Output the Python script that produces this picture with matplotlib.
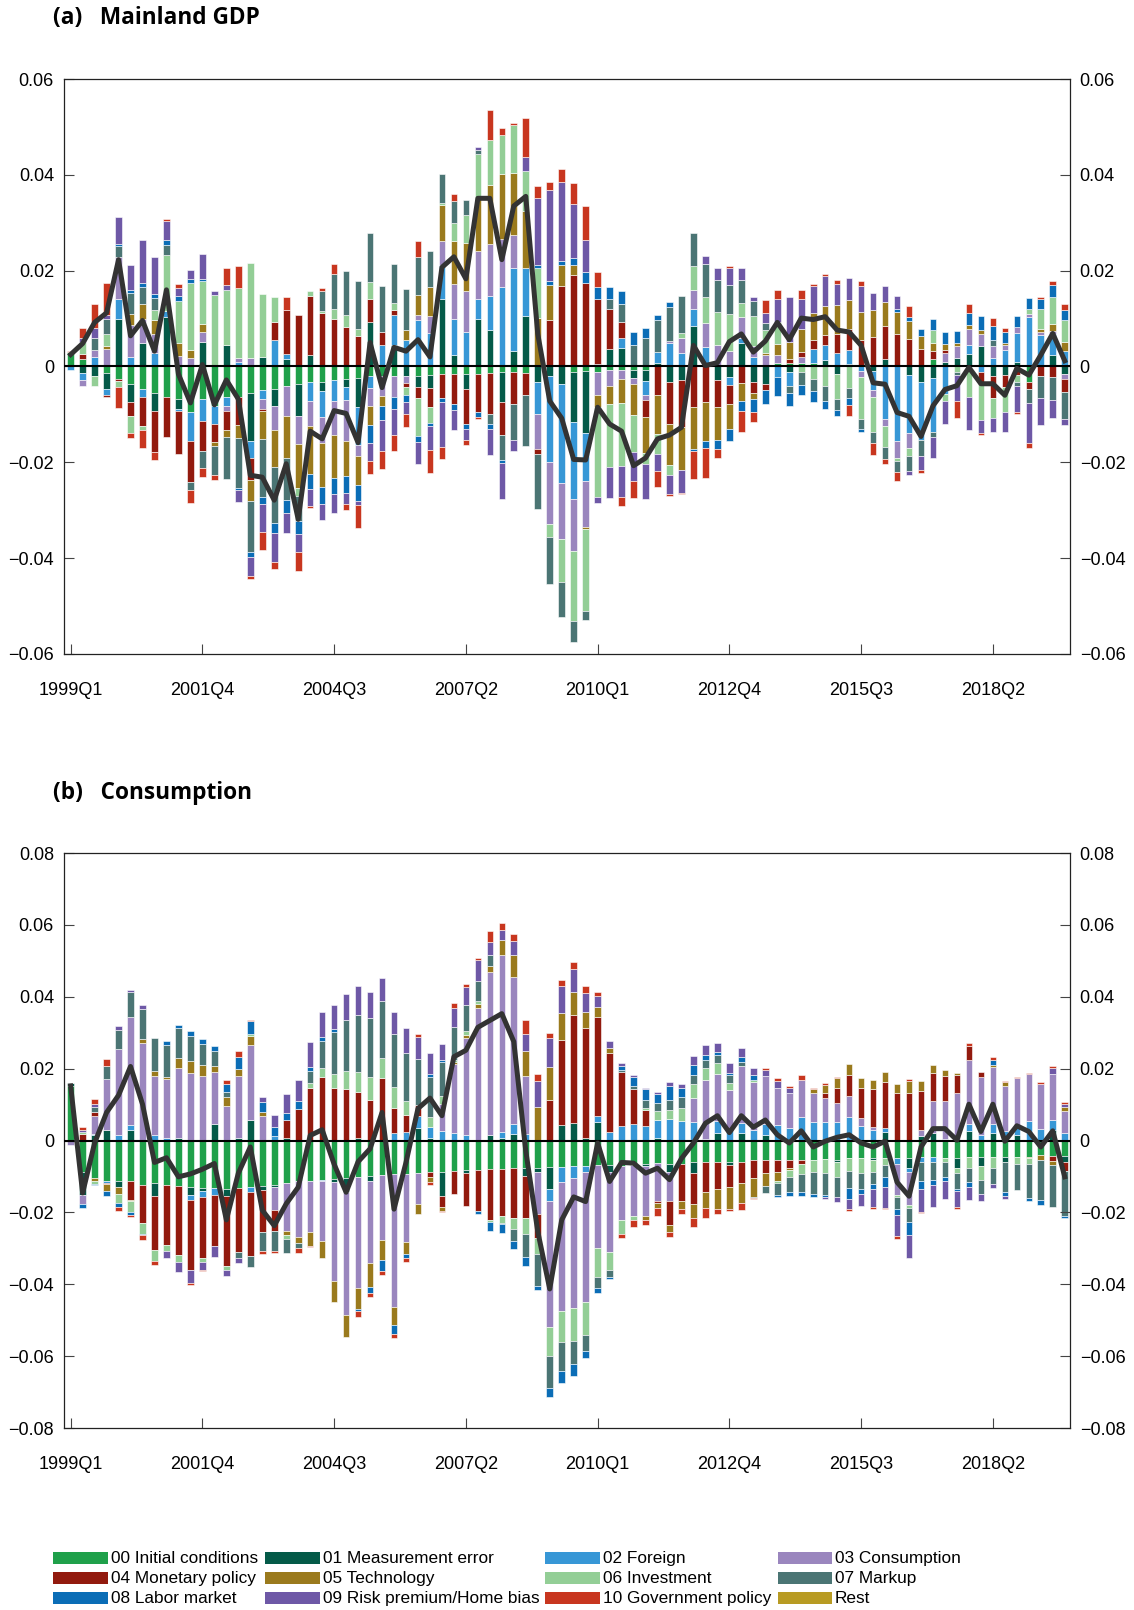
#!/usr/bin/env python3

import numpy as np
import matplotlib
matplotlib.use('Agg')
import matplotlib.pyplot as plt
from matplotlib.patches import Rectangle

plt.rcParams['font.family'] = ['Liberation Sans', 'DejaVu Sans']

# shock decomposition, 1999Q1 - 2019Q4, all values in 1/1000
n_q = 84
x_ticks = [0, 11, 22, 33, 44, 55, 66, 77]
x_labels = ['1999Q1', '2001Q4', '2004Q3', '2007Q2', '2010Q1', '2012Q4', '2015Q3', '2018Q2']

labels = ['00 Initial conditions', '01 Measurement error', '02 Foreign', '03 Consumption',
          '04 Monetary policy', '05 Technology', '06 Investment', '07 Markup',
          '08 Labor market', '09 Risk premium/Home bias', '10 Government policy', 'Rest']
colors = ['#1fa04a', '#045a48', '#3797d6', '#9a86be', '#921a0e', '#9a7a1d',
          '#93ce96', '#4b7574', '#0b6db6', '#6e58a6', '#c8361f', '#b89b23']

# ---- (a) Mainland GDP ----
gdp_init = [3.0, 1.6, 0, -1.4, -2.6, -3.7, -4.8, -5.6, -6.4, -6.8, -9.4, -6.8, -8.2, -6.4, -6.4, -5.6, -5.0, -4.6, -4.0, -3.7, -3.2,
            -3.2, -2.8, -2.6, -2.4, -2.0, -2.0, -2.0, 0, -2.0, -1.8, -1.6, -1.6, -1.6, -1.6, -1.4, -1.2, -1.2, -1.4, 0, 0, 0,
            -1.2, -1.0, -1.2, -0.8, -0.8, -0.8, -0.8, 0, 0, 0, 0, 0, 0, 0, 0, 0, 0, 0.8, 0.8, 0.8, 0.8,
            0, 0, 0, 0, 0, 0, 0, 0, 0, 1.6, 0, 0, 0, 0, 0, 0, 0, -3.2, 0, 0, 0]
gdp_meas = [0, -1.4, -2.0, -3.3, 10.0, -3.7, 5.0, -3.6, 10.4, -2.0, 0, 5.2, 0, 4.5, 0, -9.9, 2.0, -3.6, 1.6, -6.6, 2.4,
            -2.0, 0, -1.6, -6.1, 9.2, 0, 4.5, -2.0, -2.2, -2.7, 14.0, 2.4, -3.2, 10.0, 7.7, -6.2, 3.2, 10.6, -3.2, -2.0, -3.6,
            -10.4, -12.9, 0, 3.7, 3.8, -1.6, -2.2, 0.8, -3.3, -2.9, 8.5, 0, -2.8, -2.2, 5.0, -3.3, -3.7, 0, -1.2, 0, 0,
            1.4, -1.6, 0.6, 0, -1.0, 1.6, 0, -1.8, -3.3, -2.4, 1.0, 1.8, 2.6, 4.2, -2.0, -1.8, 1.0, 0, 0, 2.4, -1.6]
gdp_foreign = [-0.8, -1.4, 2.0, -1.2, 4.0, 2.0, -1.6, 2.8, 1.2, -0.4, -6.2, -4.6, -3.8, -1.8, 1.0, -3.6, -1.8, 5.6, 1.0, 0, -4.0,
               -5.4, -4.4, -2.7, -7.8, -2.4, 4.4, 6.2, 5.6, 9.6, 7.0, 7.2, 7.6, 7.2, 4.1, 7.0, 16.5, 17.3, 10.0, -6.8, -17.9, -20.7,
               -16.0, -10.0, 0.5, 0, 2.2, 0, -2.9, 2.2, 4.8, 2.9, 3.4, 4.1, 0, -1.6, 1.0, 2.0, 0, -2.2, -2.9, 0, 2.9,
               3.0, 2.9, 2.8, -1.0, -4.0, -11.0, -15.5, -12.1, -12.0, -11.2, -5.8, 0, 1.9, -1.2, 1.8, 3.4, 5.9, 10.4, 6.6, 4.4, 3.2]
gdp_cons = [0, -1.2, 1.5, 3.6, 8.8, 6.6, 5.0, 4.0, 0, 2.2, 1.8, 2.0, 0, -1.0, 0.8, 1.8, -2.0, -5.1, -6.3, -5.8, -5.2,
            -5.4, -7.2, -8.6, -2.4, -3.8, -4.1, -4.4, -1.5, 1.2, 3.6, 5.0, 7.2, 8.5, 10.0, 10.8, 10.2, 7.0, 0, -7.3, -13.0, -11.8,
            -11.0, -9.6, -4.8, -3.3, -1.8, -1.2, -1.0, 0, 0.5, 3.0, 4.1, 5.0, 4.5, 3.3, 4.4, 2.2, 2.4, 1.6, 0, 1.2, 0,
            0, 0, 0, -1.1, -1.4, -1.4, -3.7, -3.2, 0, 0, 1.9, 2.4, 3.4, 2.6, 2.4, 1.1, 1.3, 0.6, 0.5, 0.6, -1.0]
gdp_mon = [0, 1.1, 0, -0.4, -0.5, -3.0, -6.0, -8.6, -8.4, -9.0, -8.6, -6.2, -3.8, -4.0, -5.8, -4.5, -0.4, 3.6, 9.2, 10.8, 12.4,
           11.2, 10.0, 8.2, 6.4, 4.8, 2.8, 1.0, -0.8, -2.4, -4.0, -5.0, -6.2, -7.2, -7.8, -8.5, -6.9, -6.6, -4.6, -0.9, 9.8, 16.7,
           19.1, 17.5, 13.5, 8.4, 3.3, 0, -3.6, -6.0, -8.8, -9.7, -8.4, -7.4, -5.6, -4.1, -3.4, -2.2, -1.2, 0, 0.8, 1.0, 1.8,
           2.2, 3.8, 4.4, 5.6, 6.1, 6.9, 6.8, 5.8, 3.7, 1.6, 0.6, 0, 0, -2.4, -4.6, -2.4, -1.8, -1.6, -2.0, -2.2, -2.7]
gdp_tech = [0, 0, 0, 0.6, 0, 2.4, 3.0, 2.8, 0, 2.6, 1.6, 1.6, -0.8, -1.6, -2.7, -4.5, -6.0, -7.6, -8.8, -9.3, -10.0,
            -9.2, -8.8, -7.4, -6.0, -4.1, -2.1, 0, 2.1, 4.2, 6.0, 7.4, 9.0, 10.0, 10.8, 12.4, 13.4, 12.9, 11.9, 10.1, 7.3, 4.4,
            2.0, -0.4, -2.5, -3.8, -5.1, -6.6, -7.6, -8.1, -8.4, -9.0, -8.8, -8.1, -6.9, -5.2, -3.7, -1.3, 0.5, 2.2, 3.6, 4.8, 5.6,
            6.1, 6.2, 6.1, 5.8, 5.6, 5.0, 4.6, 3.7, 2.6, 1.8, 1.2, 0.8, 0.8, 0.8, 0, 0.5, 0, 0, 0.8, 1.4, 2.0]
gdp_inv = [0, 2.5, -2.0, 2.5, -1.2, -3.4, -0.8, 2.2, 11.6, 8.8, 14.0, 9.0, 15.0, 11.4, 14.5, 19.8, 13.2, 5.2, 0, -1.6, 1.0,
           0.4, 2.0, 2.6, 1.4, 3.6, 0, 1.6, -1.6, -8.0, -3.2, 0.6, 3.7, 6.0, 9.4, 9.3, 8.3, 10.0, 8.2, 10.4, -2.7, -8.9,
           -14.5, -17.1, -18.8, -13.1, -13.1, -7.7, -2.2, -4.1, -2.2, 1.0, 5.0, 5.3, 6.9, 7.6, 2.8, 6.4, 4.8, 4.6, 0, -1.2, -2.6,
           -4.0, -5.1, -4.4, -8.8, -7.3, -4.5, -0.5, -1.6, 0, 2.7, -1.4, -1.2, -6.4, -7.6, -4.1, -5.4, -1.4, 1.1, 4.0, 5.8, 4.6]
gdp_markup = [0, 0, 2.5, 3.2, 2.4, 4.4, 3.5, 2.4, 2.2, 0, -1.6, -3.6, -6.0, -8.6, -10.4, -10.7, -12.0, -11.8, -8.8, -5.2, 0,
              4.1, 7.4, 9.2, 10.0, 10.2, 9.7, 8.0, 8.4, 7.8, 7.6, 6.0, 4.6, 3.0, 0.8, -2.2, -5.2, -7.6, -10.6, -11.6, -9.8, -7.3,
              -4.4, -2.0, 0, 1.9, 3.7, 4.5, 6.0, 6.6, 7.2, 7.8, 6.8, 6.9, 6.7, 6.2, 4.8, 3.0, 1.3, 0, -1.4, -2.6, -2.6,
              -3.2, -2.4, -2.2, -2.2, -2.2, -2.4, -2.4, -3.2, -3.3, -1.2, 0, -0.6, 0, 0, 1.4, 0, -0.8, -2.8, -4.5, -4.8, -5.6]
gdp_labor = [0, 0, 0, 0, 0.4, 0.6, 1.0, 1.0, 1.0, 1.2, 0.8, 0.4, 0, 0, -0.5, -1.0, -1.4, -2.0, -2.6, -2.8, -3.2,
             -3.6, -3.4, -3.6, -3.4, -3.6, -3.0, -2.4, -1.6, -1.1, -0.8, -0.8, -1.2, -1.0, -1.2, -1.0, -0.6, 0, 0, 0.6, 0.8, 1.0,
             1.6, 2.2, 2.6, 2.6, 2.7, 2.7, 2.0, 1.2, 1.0, 0, -0.5, -1.6, -2.0, -2.4, -2.2, -2.7, -3.0, -4.0, -2.8, -2.2, -2.2,
             -1.6, -1.3, -1.4, -0.6, 0, 0, 0.5, 0.8, 1.6, 2.2, 2.4, 2.4, 2.4, 2.9, 2.8, 2.2, 2.3, 2.2, 2.2, 2.4, 1.9]
gdp_risk = [0, 0.8, 2.0, 0.8, 5.6, 5.1, 9.0, 7.6, 4.0, 1.6, 2.0, 5.2, 0.8, 1.2, -2.4, -4.0, -6.0, -6.0, -4.2, -3.7, -3.6,
            -3.2, -4.0, -2.2, -0.8, -3.8, -6.4, -5.6, -2.4, -4.6, -5.0, -9.4, -4.3, -2.4, 0.8, -5.3, -7.5, -2.2, 3.0, 14.0, 18.9, 16.3,
            11.2, 6.6, -1.2, -6.4, -6.5, -6.1, -7.3, -3.7, -4.0, -4.8, 0, 1.8, 2.4, 3.4, 2.5, 0.9, 2.2, 4.8, 9.4, 6.2, 5.8,
            6.2, 4.3, 4.5, 5.3, 3.7, 3.4, 2.8, -0.8, -2.9, -4.2, -4.9, -5.4, -6.9, -2.6, -3.0, -4.0, -5.6, -8.4, -5.7, -3.7, -1.3]
gdp_gov = [0.2, 2.0, 5.0, 6.8, -4.3, -1.1, -3.8, -1.8, 0.4, 0.8, -2.6, -1.8, -1.0, 3.4, 4.6, -0.6, -3.8, -1.6, 2.6, -4.0, -0.4,
           0.6, 1.9, -1.2, -4.8, -2.8, -3.8, -3.2, -2.8, 3.4, -4.8, -2.6, 1.6, -1.0, -0.3, 6.4, 1.4, 0.5, 8.2, 2.5, 1.6, 2.8,
           4.4, 7.2, 3.2, 0, -1.9, -3.4, 0, -3.2, -0.3, -0.3, -5.8, -6.2, -1.8, 0.4, -4.4, -2.1, 2.6, 2.0, 0, 2.0, 0.3,
           0.4, 0.8, -2.4, 1.2, -2.6, -1.1, -1.8, 2.4, -0.8, 0, 0, -3.6, 2.0, -0.5, 1.8, 0.8, -0.4, -1.0, 0.5, 0.8, 1.4]
gdp_rest = [0] * n_q
gdp_total = [2.5, 4.8, 9.2, 11.2, 22.3, 6.4, 9.6, 3.2, 16.0, -1.6, -7.6, 0.4, -8.0, -2.8, -6.8, -22.7, -23.1, -27.9, -20.3, -31.9, -13.5,
             -15.1, -9.2, -9.8, -15.9, 5.0, -4.4, 4.0, 3.2, 5.6, 2.0, 20.7, 22.9, 18.3, 35.1, 35.1, 22.3, 33.5, 35.5, 6.8, -7.2, -10.8,
             -19.4, -19.5, -8.5, -12.0, -13.5, -20.7, -19.1, -15.1, -14.3, -12.7, 4.4, 0.2, 0.8, 5.2, 6.8, 3.0, 5.3, 9.2, 5.6, 10.1, 9.8,
             10.4, 7.6, 7.2, 4.4, -3.4, -3.7, -9.6, -10.4, -14.6, -8.2, -4.8, -4.0, -0.2, -3.6, -3.6, -6.0, -0.4, -1.8, 2.4, 6.9, 1.2]

# ---- (b) Consumption ----
cons_init = [15.2, -8.7, -10.3, -11.2, -11.4, -11.4, -12.3, -11.9, -12.3, -12.7, -13.0, -13.3, -13.3, -13.5, -13.3, -13.0, -12.7, -12.5, -11.7, -11.4, -11.2,
             -10.9, -10.6, -10.3, -10.1, -9.8, -9.5, -9.3, -9.3, -9.1, -8.7, -8.7, -8.4, -8.2, -8.2, -8.0, -8.0, -7.7, -7.7, -7.7, -7.4, -7.4,
             -7.1, -7.1, -6.9, -6.9, -7.1, -6.9, -6.6, -6.3, -6.6, -6.6, -6.1, -6.1, -6.1, -6.0, -5.9, -5.5, -5.5, -5.5, -5.5, -5.5, -5.5,
             -5.2, -5.5, -5.0, -5.0, -5.0, -4.8, -5.0, -4.8, -4.5, -4.5, -4.8, -4.8, -4.5, -4.5, -4.5, -4.5, -4.5, -4.5, -3.9, -4.2, -4.2]
cons_meas = [0.7, -6.4, 1.4, 3.0, -1.4, 3.0, 0, -3.5, 0, 0.8, -2.1, -0.7, 4.6, -2.0, 0.8, 5.7, -1.1, -0.5, 0.8, 0, 0,
             0, -0.9, -4.0, 0.8, -1.6, 0, 0, 0, 3.5, 0.8, -6.7, 0, -0.8, 0, 1.6, 0.8, 1.9, -2.1, -1.1, -6.0, 4.4,
             4.8, 0.8, 5.1, -1.8, 0, 0, -0.5, 0.8, -2.1, 0, -3.0, 0, 2.2, -0.8, 2.2, 0, 1.6, 0, 0, 0, 0,
             0, -0.5, 0, 0, -0.5, 2.5, 0, -2.9, 1.2, 2.2, 0, -2.9, 2.7, -2.5, 2.2, -1.6, 1.4, 0, 0, 3.0, -1.9]
cons_foreign = [0, 0, 0.5, -0.7, 1.4, 1.4, 0, 1.6, 0.8, 0, -1.4, -1.6, -1.8, 0, 0, -1.4, 0, 1.2, 0, 0, 0,
                -0.5, 0, 0, 0, 0, 0, 2.2, 2.5, 3.2, 2.9, 2.7, 2.2, 1.6, 0, 0, 1.6, 2.7, 1.9, 0, -3.4, -4.1,
                -3.4, -1.6, 1.6, 2.5, 4.1, 4.6, 4.1, 5.0, 5.9, 5.4, 5.1, 0.3, 3.2, 3.3, 2.6, 3.0, 3.0, 4.4, 3.5, 6.5, 5.1,
                5.1, 5.1, 6.5, 4.1, 3.0, 1.1, -1.6, -1.1, -1.6, -1.6, 0.3, 0, 1.9, 1.6, 2.3, 2.7, 2.0, 5.4, 3.3, 2.7, 2.2]
cons_cons = [-1.3, -2.7, 5.0, 14.2, 24.0, 29.9, 27.0, 16.3, 16.3, 19.5, 18.7, 17.9, 14.4, 9.7, 17.1, 20.8, 6.7, -6.4, -13.5, -15.5, -14.3,
             -16.5, -27.5, -34.3, -30.9, -22.6, -18.1, -37.1, -19.0, -8.5, 0, 7.5, 19.2, 27.0, 37.0, 45.4, 49.1, 41.0, 16.0, -11.7, -35.2, -36.0,
             -36.0, -36.3, -23.1, -22.4, -15.1, -14.1, -13.9, -10.5, -8.2, 0, 6.7, 16.5, 13.2, 10.7, 15.8, 13.3, 13.3, 10.3, 9.6, 10.3, 8.0,
             6.7, 5.3, 5.8, 2.1, 0.7, 0, -8.5, -9.1, 1.8, 8.7, 10.7, 13.1, 17.9, 16.0, 16.0, 12.4, 13.9, 13.0, 12.5, 12.8, 6.1]
cons_mon = [0.2, 1.8, 0.9, -0.2, 0, -5.1, -10.7, -15.1, -16.7, -19.2, -19.6, -17.1, -14.2, -19.3, -17.8, -17.8, -11.7, -5.9, 5.0, 8.9, 14.7,
            17.6, 14.7, 14.4, 12.8, 11.2, 17.4, 6.8, 4.5, 3.2, -1.4, -3.2, -6.4, -9.3, -11.5, -14.1, -13.0, -13.9, -11.7, -6.7, 11.2, 23.5,
            30.2, 30.6, 27.7, 21.9, 14.9, 9.6, 4.3, -0.5, -6.7, -10.1, -8.7, -8.3, -7.5, -6.1, -5.8, -5.0, -3.5, -3.2, -2.1, -1.1, 0,
            1.5, 4.3, 6.0, 8.5, 10.7, 12.6, 13.1, 13.1, 10.7, 8.0, 6.9, 5.1, 3.9, 1.4, 0, 0, 0, 0, 0, -1.4, -2.3]
cons_tech = [0, 0, -1.0, -1.9, -2.0, -0.4, 1.3, 1.4, 0.7, 2.6, 3.5, 3.2, 1.6, 2.3, 2.1, 2.5, 1.3, 0, -1.1, -1.6, -3.8,
             -4.8, -5.8, -6.2, -5.8, -6.7, -5.7, -5.0, -3.2, -2.9, -1.5, -1.1, 0.4, 0.7, 1.1, 1.5, 4.3, 5.9, 7.1, 9.4, 9.2, 7.7,
             6.4, 4.3, 2.7, 1.4, 0, 0, -1.1, -1.4, -1.8, -2.3, -3.7, -4.5, -5.5, -6.2, -5.7, -5.1, -3.6, -2.7, -0.5, 0, 1.1,
             2.1, 2.7, 2.9, 2.7, 2.5, 2.9, 2.7, 3.4, 2.9, 2.1, 1.6, 0.7, 0, 0, 0.5, 1.1, 0, -0.5, -1.6, -1.1, 1.1]
cons_inv = [0, 0.6, -0.8, 0, -2.5, -3.0, -2.9, -3.0, -1.8, -1.9, 0, -1.1, 0, -1.3, 0, 0.7, 0, 0, -1.1, 0, 1.4,
            2.5, 3.9, 4.9, 5.6, 6.4, 5.5, 6.0, 4.1, 0, 2.8, 2.1, 0.6, 1.2, 0.8, -0.5, -1.9, -2.9, -4.6, -4.5, -8.0, -8.7,
            -9.4, -9.1, -8.0, -5.0, -3.8, -1.1, 0.7, 2.5, 2.5, 3.6, 3.9, 3.4, 3.0, 2.1, 0.2, 0.5, 0, -0.5, -2.1, -2.7, -3.2,
            -3.8, -4.1, -3.4, -4.1, -3.2, -2.1, -0.7, -0.9, 0, 0, -1.1, -1.4, -3.2, -3.9, -3.2, 0, -2.1, -1.4, 0, 0, 0]
cons_markup = [0, 0, 1.6, 3.4, 5.3, 6.9, 8.3, 9.3, 8.7, 8.3, 6.9, 5.7, 4.3, 1.6, -1.6, -2.9, -5.3, -5.5, -4.0, -1.3, 3.2,
               7.5, 11.7, 14.1, 15.7, 16.6, 16.0, 14.6, 13.3, 12.8, 11.1, 9.6, 9.3, 7.1, 5.5, 3.2, -0.4, -3.5, -6.4, -8.7, -8.9, -8.0,
               -6.4, -4.5, -3.0, -1.9, 0.7, 1.1, 2.1, 2.1, 2.9, 3.0, 2.5, 2.2, 2.3, 2.1, 1.1, -0.5, -2.1, -3.2, -4.1, -5.1, -6.2,
               -6.1, -5.5, -4.9, -4.3, -3.5, -3.2, -3.2, -3.9, -5.1, -4.8, -4.3, -4.3, -3.9, -3.9, -4.3, -8.3, -7.1, -9.5, -11.0, -11.7, -12.6]
cons_labor = [0, -0.9, -0.4, -1.4, -1.1, -0.9, -0.5, 0, 1.1, 0.9, 1.3, 1.5, 1.3, 2.1, 3.2, 3.5, 2.8, 2.6, 1.9, 2.1, 1.1,
              1.1, 0.6, 0, -0.6, -1.8, -2.9, -2.5, -1.3, 0, 0.9, 0.6, 0, 0, -0.7, -2.5, -2.5, -2.1, -2.3, -1.1, -2.6, -3.2,
              -3.2, -1.9, -1.3, -0.5, 0.9, 2.3, 3.0, 2.5, 3.8, 2.7, 2.9, 1.5, 0.6, 0.7, 1.4, 1.4, 0, -0.7, -1.1, -1.1, -0.7,
              -0.7, 0, -2.9, -1.5, -1.3, -2.9, -1.7, -3.7, -2.3, -1.6, -1.1, -0.7, -1.4, 0, 1.4, -1.1, 0, -0.9, -1.5, 0, -0.5]
cons_risk = [0, 0.5, 0.7, 0, 1.1, 0.7, 1.1, 0, -1.9, -2.7, -3.5, -2.3, -3.2, -1.7, -1.3, 0, 1.3, 3.2, 5.3, 5.8, 7.1,
             7.1, 6.8, 7.5, 8.0, 7.1, 6.4, 6.1, 6.9, 6.2, 5.9, 4.3, 5.3, 5.0, 5.7, 3.5, 2.9, 4.1, 4.6, 7.1, 8.0, 7.5,
             6.4, 5.3, 3.2, 1.8, 1.1, 0.6, 0.5, 0.7, 1.1, 1.1, 2.5, 2.8, 2.6, 2.7, 2.5, 2.1, 1.8, 1.8, 1.6, 0, 0,
             -0.6, -1.6, -2.9, -3.2, -5.1, -5.7, -5.8, -6.4, -6.4, -5.9, -5.0, -4.3, -3.5, -1.9, -1.1, -0.7, 0, 0, 0, 1.6, 0.7]
cons_gov = [0, 0.8, 1.4, 2.1, -1.1, -0.4, -1.3, -1.1, 0, 0, -0.7, -0.3, 0, 1.1, 1.6, 0.4, -0.9, -0.6, 0, -1.4, -0.4,
            0, 0, 0, -1.8, -1.1, -1.1, -1.1, -0.9, 0.7, -0.9, -0.3, 1.4, 0.9, 0.7, 3.2, 1.9, 1.8, 3.9, 2.1, 1.6, 1.6,
            1.8, 2.1, 1.1, 0, -1.1, -2.1, -1.4, -2.3, -1.4, -1.4, -2.7, -2.7, -1.4, -0.5, -1.8, -0.3, 0.6, 0.9, 0.5, 1.4, 0.5,
            0.5, 0.2, -0.6, 0, -0.4, -0.4, -0.9, 0.6, -0.3, 0, 0, -0.7, 0.7, 0, 0.7, 0.4, 0.4, 0.5, 0.5, 0.7, 0.6]
cons_rest = [0] * n_q
cons_total = [15.2, -14.6, -0.7, 7.8, 12.6, 20.6, 10.1, -6.1, -4.8, -10.1, -9.3, -8.0, -6.4, -22.1, -9.1, -1.8, -19.4, -23.7, -17.6, -13.0, 1.4,
              3.0, -6.6, -14.4, -5.9, -2.3, 7.8, -19.1, -6.1, 8.9, 11.8, 6.9, 23.3, 25.1, 31.5, 33.4, 35.3, 27.5, -2.9, -25.3, -41.3, -22.1,
              -15.7, -17.0, -0.7, -11.4, -6.1, -6.3, -9.1, -7.7, -10.9, -5.0, -0.7, 4.8, 6.9, 2.2, 6.9, 3.7, 5.7, 1.6, -0.7, 2.7, -1.8,
              -0.2, 0.9, 1.6, -0.7, -1.8, -0.2, -11.6, -15.5, -1.8, 3.3, 3.3, 0.1, 10.1, 2.5, 10.1, -0.2, 4.1, 2.5, -1.8, 2.7, -10.1]

gdp_parts = [gdp_init, gdp_meas, gdp_foreign, gdp_cons, gdp_mon, gdp_tech,
             gdp_inv, gdp_markup, gdp_labor, gdp_risk, gdp_gov, gdp_rest]
cons_parts = [cons_init, cons_meas, cons_foreign, cons_cons, cons_mon, cons_tech,
              cons_inv, cons_markup, cons_labor, cons_risk, cons_gov, cons_rest]

W, H = 1134, 1610


def draw_panel(ax, parts, total, lim):
    x = np.arange(n_q)
    up = np.zeros(n_q)
    down = np.zeros(n_q)
    for vals, col in zip(parts, colors):
        v = np.asarray(vals, dtype=float) / 1000
        pos = np.clip(v, 0, None)
        neg = np.clip(v, None, 0)
        m = pos > 0
        ax.bar(x[m], pos[m], 0.55, bottom=up[m], color=col, edgecolor='white', linewidth=0.4)
        m = neg < 0
        ax.bar(x[m], neg[m], 0.55, bottom=down[m], color=col, edgecolor='white', linewidth=0.4)
        up += pos
        down += neg
    ax.axhline(0, color='black', lw=1.5, zorder=3)
    ax.plot(x, np.asarray(total) / 1000, color='#333333', lw=3.6, zorder=4)

    ax.set_xlim(-0.58, 83.44)
    ax.set_ylim(-lim, lim)
    yt = np.linspace(-lim, lim, 7 if lim < 0.07 else 9)
    ax.set_yticks(yt)
    ax.set_yticklabels(['0' if abs(t) < 1e-9 else f'{t:.2f}'.replace('-', '\u2212') for t in yt])
    ax.set_xticks(x_ticks)
    ax.set_xticklabels(x_labels)
    ax.tick_params(axis='y', direction='in', length=7, width=0.8, right=True,
                   labelright=True, labelsize=13, pad=7, color='#444444')
    ax.tick_params(axis='x', direction='in', length=7, width=0.8, labelsize=13, pad=20, color='#444444')
    for s in ax.spines.values():
        s.set_linewidth(0.9)
        s.set_color('#222222')


fig = plt.figure(figsize=(W / 100, H / 100), dpi=100)

ax1 = fig.add_axes([63.7 / W, 1 - 654 / H, (1070 - 63.7) / W, 575 / H])
draw_panel(ax1, gdp_parts, gdp_total, 0.06)
ax2 = fig.add_axes([63.7 / W, 1 - 1428 / H, (1070 - 63.7) / W, 575 / H])
draw_panel(ax2, cons_parts, cons_total, 0.08)

fig.text(53 / W, 1 - 18 / H, '(a)   Mainland GDP', fontfamily='Open Sans',
         fontweight='bold', fontsize=16.3, va='center')
fig.text(53 / W, 1 - 793 / H, '(b)   Consumption', fontfamily='Open Sans',
         fontweight='bold', fontsize=16.3, va='center')

# legend, 4 columns x 3 rows
col_x = [53.4, 265, 545.4, 777.6]
row_y = [1558, 1578, 1598]
for k, (lab, col) in enumerate(zip(labels, colors)):
    cx = col_x[k % 4]
    cy = row_y[k // 4]
    fig.add_artist(Rectangle((cx / W, 1 - (cy + 5.6) / H), 54.5 / W, 11.3 / H,
                             transform=fig.transFigure, facecolor=col, edgecolor='none'))
    fig.text((cx + 57.5) / W, 1 - cy / H, lab, fontsize=12.4, va='center', ha='left')

fig.savefig('out.png', dpi=100)
